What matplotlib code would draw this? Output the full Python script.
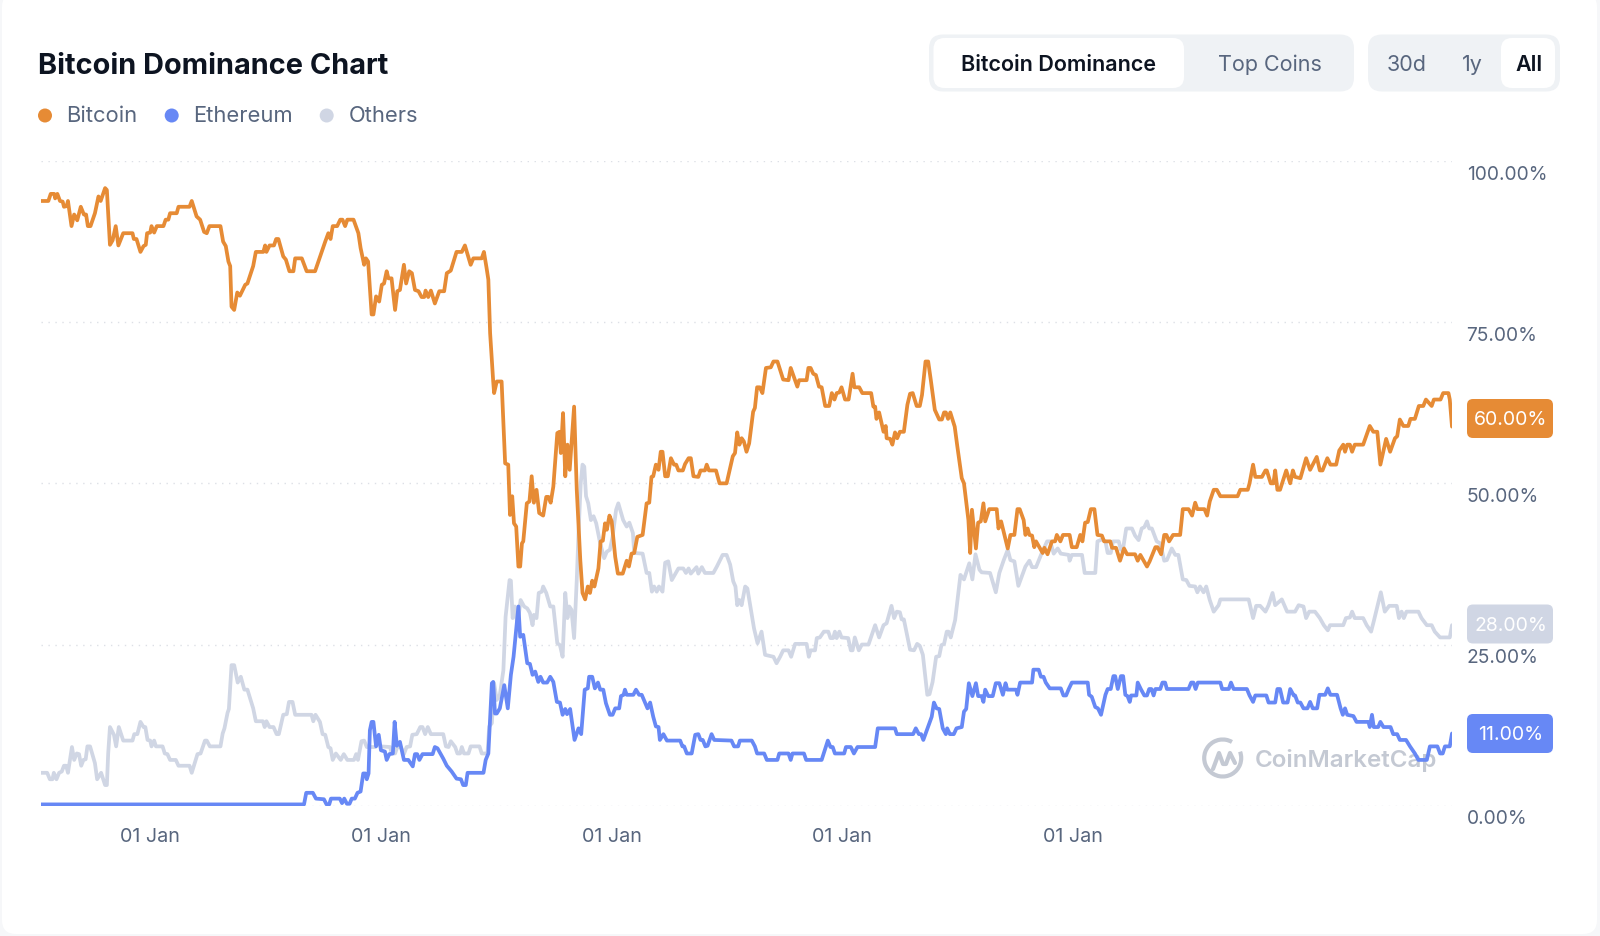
import matplotlib
matplotlib.use("Agg")
import matplotlib.pyplot as plt
from matplotlib.patches import FancyBboxPatch, Circle, Arc
from matplotlib.transforms import ScaledTranslation

plt.rcParams['font.family'] = ['Inter', 'DejaVu Sans']

# (weeks since first sample, share in %)
bitcoin = [(0,93.8),(1.66,93.8),(2.2,94.9),(3,94.9),(3.2,94.2),(3.7,94.9),(4.3,93.8),(4.9,93.7),(5.2,92.9),(5.8,93),(6.1,93.8),(6.9,89.9),(7.5,91.7),(8.2,90.8),(9,92.9),(9.7,91.7),(10.2,91.7),(10.6,89.9),(11.2,89.9),(12.2,91.9),(13,94.5),(13.5,93.8),(14.5,95.8),(14.9,95.5),(15.6,87),(16.2,87.7),(16.9,89.9),(17.5,86.9),(18.6,88.8),(20.7,88.8),(21,87.9),(21.6,87.9),(22.5,85.9),(23.2,86.8),(23.7,87),(24,88.8),(24.7,88.9),(25,89.9),(25.6,88.9),(26.2,89.9),(27.7,89.9),(28.2,90.9),(28.8,90.9),(29.2,91.9),(30.7,91.9),(31.1,92.9),(33.6,92.9),(34.1,93.8),(35.2,91.4),(36,90.9),(36.9,89),(37.5,88.8),(38.1,89.9),(40.6,89.9),(41.2,87.5),(41.8,86.8),(42.4,84.4),(42.8,83.7),(43.1,77.4),(43.7,76.9),(44.4,79.6),(45,79.1),(46.2,80.8),(46.7,81),(48,83.7),(48.6,85.9),(50.3,85.9),(50.7,86.9),(51,85.9),(51.7,86.9),(52.7,86.9),(53.2,87.9),(53.7,87.9),(54.8,85.2),(55.4,84.7),(56.2,82.9),(57.1,82.9),(57.5,84.9),(59,84.9),(60.1,82.9),(62,82.9),(64.3,87.5),(65,88.8),(65.5,87.9),(66,89.9),(67,89.9),(67.7,90.9),(68.2,90.9),(68.8,89.9),(69.3,90.9),(70.7,90.9),(71.8,88.8),(72.3,86.5),(73.1,83.9),(73.5,84.9),(74,84.4),(74.8,76.2),(75.2,76.2),(75.8,79),(76.5,78.2),(77.1,80.8),(77.6,81),(78.2,82.9),(78.6,81.8),(79.3,81.8),(80.1,76.9),(80.6,79.8),(81.2,80),(82.1,83.9),(82.6,81),(83.3,82.9),(83.9,82.6),(84.6,80),(85.4,79.8),(86.1,78.9),(86.7,78.9),(87,79.9),(87.6,78.9),(88.2,79.9),(89.1,77.9),(90.1,79.8),(91.2,79.8),(91.8,82.6),(92.7,83),(94,85.9),(95.2,85.9),(95.9,86.9),(97.2,83.9),(97.8,84.9),(99.7,84.9),(100.2,85.9),(100.8,83.4),(101.2,81.6),(101.6,73.3),
 (102.3,65.8),(102.5,64),(103.1,65.8),(104.2,65.8),(105,53.1),(105.7,52.9),(106.1,45.1),(106.6,48),(107,43.8),(107.5,43.3),(108,37.1),(108.4,37.1),(108.8,40.7),(109.1,41),(109.9,46.9),(110.5,47.2),(111,51.1),(111.5,47),(112.1,49),(112.7,45.4),(113.6,45),(114.3,47.9),(114.8,47.9),(115.3,47),(115.9,49.5),(116.8,57.8),(117.3,58),(117.6,54.7),(118.1,60.9),(118.6,51.1),(119.1,56),(119.6,52.1),(120.6,61.9),(121.2,49),(122,38.1),(122.5,33),(123.1,32),(123.7,34),(124.2,33),(124.7,34.9),(125.2,34),(126.1,36.8),(126.6,41),(127.1,41.1),(127.6,43.8),(128,42.8),(128.6,45),(129.1,44.1),(129.9,38.6),(130.5,36),(131.6,36),(132.5,38),(133,37.1),(133.6,39.1),(134.2,39.2),(134.9,41.7),(136.1,42),(137,46.9),(137.6,47),(138.1,51),(138.5,51.1),(139.1,52.9),(139.7,52.1),(140.2,54.9),(140.6,54.9),(141.2,51.1),(141.8,51.1),(142.5,53.9),(143.2,52.9),(143.7,52.9),(144.2,52),(145.2,52),(145.7,53),(146.5,53.9),(147,53.9),(147.6,51.1),(148.7,51),(149.2,52),(150.2,52),(150.6,52.9),(151.1,52),(152.7,52),(153.5,50),(155.1,50),
 (156.5,54.2),(157,54.7),(157.5,57.9),(158,56),(158.5,57),(159,56.5),(159.6,54.9),(160.2,56.2),(161.1,61.1),(161.5,61.7),(162,64.9),(162.6,64.9),(163.2,64),(164,67.9),(165.1,68),(165.7,68.9),(166.6,68.9),(167.9,66.1),(169.1,66),(169.6,67.9),(171.1,65),(171.5,66),(173.2,66),(173.6,67.9),(174.1,67.9),(174.7,67),(175.3,66.8),(176,65),(176.6,64.9),(177.4,62),(178.3,62),(178.9,64),(179.5,63),(180,64),(180.6,64.1),(181.1,64.9),(181.9,63),(182.7,63),(183.6,67),(184,64.9),(185.1,64.9),(185.8,64),(187.8,64),(188.3,61.9),(188.7,61.9),(189,60),(189.6,61),(190.6,58),(191.1,58.9),(191.3,57),(192.1,56.9),(192.6,56),(193.2,57.9),(193.7,57),(194.3,58),(195.2,58),(196,62.2),(196.6,63.9),(197.2,64),(198.1,62),(198.8,62),(199.3,63.7),(200.1,68.9),(200.7,68.9),(201.3,66),(202.2,61.4),(203.2,59.9),(203.8,59.9),(204.3,61),(204.7,61),(205.2,60),(205.7,61),(206.7,58.8),(207.3,55.7),(208.3,50.8),(208.8,50),(209.8,44.3),(210.2,39.2),(210.6,45.9),(211.5,39.9),(212,43.9),(212.6,44.1),(213.2,46.9),(213.6,44.1),(214.5,46),(216.2,46),(216.6,43),
 (217.2,44.1),(218.7,39.9),(219.3,42),(220.2,42),(220.9,46),(221.4,46),(222.3,44.3),(222.7,42),(223.2,43),(223.6,42),(224.2,41.9),(224.7,40.1),(225.1,41),(226,39.9),(226.6,39.2),(227,40),(227.7,39),(228.7,41),(229.4,41),(229.8,42),(230.6,41),(231.2,42),(232.7,42),(233.2,40.1),(234.3,40.1),(235.1,42),(235.6,41),(236.2,43.9),(236.8,44),(237.5,46),(238.3,46),(239,42),(240,41.9),(240.5,41),(241.9,41),(242.3,40),(243.2,40),(244.1,38),(245,39.9),(245.7,39),(247.5,39),(248.1,38),(248.7,38.9),(250.2,37.1),(250.8,37.9),(252.1,40.1),(252.6,40.1),(253.4,39),(254.1,42),(254.6,42),(255.2,41),(256.1,42),(257.7,42),(258.3,46),(259.6,46),(260.4,45),(261.1,47),(261.6,46),(263.2,46),(263.8,45),(264.4,47.2),(265.3,49),(266,49),(266.8,48),(270.7,48),(271.3,49),(273,49),(273.4,50),(274.2,52.9),(274.7,51),(276.2,51),(277,52),(277.3,52),(278.2,50),(278.8,50),(279.2,52),(279.7,49),(280.3,49),(281.7,52),(282.6,50),(283.2,52),(283.7,51),(284.9,50.8),
 (286.2,53.9),(287.1,52.1),(288.6,54.1),(289.3,52),(289.9,52),(291,53.9),(291.7,52.9),(293,52.9),(293.7,55.1),(294.6,56),(295,54.9),(295.5,56),(296.1,56),(296.6,54.9),(297.2,56),(299.1,56),(300.6,58.9),(301.4,58),(302.3,58),(303,52.9),(304.3,56.9),(305.2,54.9),(306.3,57),(306.8,57.3),(307.4,59.9),(308.2,58.9),(309.3,58.9),(309.8,60),(310.8,60),(311.7,62),(312.7,62),(313.3,63),(314.6,62),(315.1,63),(316.6,63),(317.2,64),(318.4,64),(318.7,63),(319.2,58.8)]

ethereum = [(0,0.2),(59.5,0.2),(60,2),(61.5,2),(62.2,1.1),(64,1),(64.6,0.2),(65.2,0.2),(65.6,1.1),(67.6,1.1),(68.1,0.4),(68.6,1.1),(69.2,0.3),(69.8,0.3),(70.3,1.1),(71,1.1),(71.6,2),(72.3,2.2),(72.9,5),(73.4,5),(73.7,4.1),(74.1,5),(74.4,11.7),(74.8,13),(75.2,13),(75.8,9.2),(76.4,11),(76.9,8.6),(77.8,8.4),(78.2,7.1),(78.8,8),(79.6,8.1),(80,13),(80.5,9.3),(81.2,9.9),(82.1,7.1),(83.1,7.1),(84.1,6.1),(84.6,8),(85.1,8),(85.6,7.1),(86.3,8),(88.6,8),(89.1,9.1),(89.7,8.9),
 (91,7.3),(91.8,6.2),(92.9,5.3),(94,4.2),(95,4.1),(95.5,3.2),(96.1,3.2),(96.5,5.1),(100.1,5.1),(100.6,7.1),(101.2,8.1),(102,19),(102.3,19.2),(102.7,14.3),(103.1,14.3),(103.8,15.1),(104.8,18.7),(105.6,15.1),(106.3,20.3),(106.9,23.1),(108,30.9),(108.4,26.2),(109.1,26.5),(110,22.1),(110.6,22),(111.2,20.3),(111.8,20.8),(112.5,19.2),(113,20),(113.6,19.1),(114.5,19.1),(115.2,20),(115.9,19.2),(116.7,16.1),(117.4,16),(118,14.1),(118.6,15),(119,14.2),(119.7,15),(120.7,10.2),(121.6,12),(122.2,11.1),(123,18),(123.7,18.2),(124,20),(124.7,20),(125.3,18.2),(126,19.1),(126.5,18),(127.2,18),(127.8,15.9),(128.7,14.1),(129.3,14.1),(129.9,15.1),(130.8,15.1),(131.2,17),(131.8,17.2),(132.1,18),(132.5,17.2),(134,17.2),(134.6,18),(135.3,17.2),(135.9,17.2),(137.2,15.1),(137.8,16),(138.5,13.8),(139.1,12.3),(139.7,12.2),(140,10.2),(140.8,11.1),(141.6,10.1),(144.6,10.1),(145.1,9.2),(145.5,9.2),(146.1,8.1),(147.2,8.1),(148,11),(148.7,11.1),(149.2,10.2),(149.7,10.2),(150.3,9.2),(150.8,9.3),(151.7,11.1),(152.3,10.2),
 (156.2,10.1),(156.8,9.2),(157.7,9.2),(158.1,10.1),(160.8,10.1),(161.5,9.2),(162,8.1),(163.6,8.1),(164.2,7.1),(166.6,7.1),(167,8.1),(169.1,8.1),(169.6,7.1),(170,8.1),(172.6,8.1),(173.1,7.1),(176.6,7.1),(178,10.1),(178.6,9.1),(179.1,9.1),(179.6,8.1),(181.7,8.1),(182.1,9.1),(183.2,9.1),(183.9,8.1),(184.7,9.1),(188.7,9.1),(189.3,12),(189.8,12),(193.2,12),(193.6,11.1),(197.3,11.1),(197.9,12),(198.6,11.1),(199.1,11.1),(199.6,10.2),(200.7,12.3),(201.5,13.8),(202,16),(202.6,15.1),(203.2,15),(204,12),(204.7,11.1),(205,12),(205.6,11.1),(206.5,11.1),(207.1,12),(208.3,12.2),(208.8,14.6),(209.3,15),(209.9,19),(210.7,17),(211.5,19),(212,17),(212.8,17),(213.2,16.1),(213.6,18),(214.3,17),(215.3,17),(216,19),(216.8,19),(217.6,17.2),(218.2,19),(218.6,18),(220.6,18),(220.9,17.2),(221.5,19.1),
 (224.2,19.1),(224.5,21.1),(225.7,21.1),(226.2,20),(226.8,20),(227.3,19.1),(228.2,18.2),(230.7,18.2),(231.3,17.1),(231.9,17.1),(232.5,18.1),(233.2,19.1),(236.8,19.1),(237.1,17.2),(237.7,16.9),(238.5,15.3),(239.1,15.1),(239.8,14.1),(240.8,17.2),(241.3,18.1),(242,18.1),(242.6,20.1),(243,20.1),(243.6,18.1),(244.3,20.1),(244.8,20.1),(245.3,17.2),(245.8,17),(246.3,16.1),(246.6,17.1),(247.8,17.1),(248.1,19.1),(248.8,18.1),(249.6,17.1),(250.2,17.1),(250.7,18.1),(251.2,18.1),(251.7,17.1),(252.1,18.1),(253.2,18.1),(253.7,19.1),(254.3,19.1),(254.7,18.1),(259.6,18.1),(260.2,19.1),(260.7,19.1),(261.2,18.1),(261.7,19.1),(266.8,19.1),(267.2,18.1),(268.7,18.1),(269.2,19.1),(269.8,18.1),(272.8,18.1),(273.4,17.1),(274.2,16.1),(274.7,17.1),(277.2,17.1),(277.7,16),(279.2,16),(279.7,18.1),(280.3,18.1),(281,16),(282,16),(282.6,18.1),(283.4,17.1),(283.7,17.1),(284.3,16),(284.9,16),
 (285.6,15.1),(286.5,15.1),(287.1,16.1),(287.7,15.1),(288.7,15.1),(289.2,17.2),(290.5,17.2),(291.1,18.2),(291.7,17.2),(293.2,17.2),(294,15.1),(294.5,14.1),(295,15.1),(295.5,14.1),(296.9,13.9),(297.6,13),(300.3,13),(300.6,12.2),(301.1,14.1),(301.5,12.2),(302.5,12.2),(303,13),(303.7,12.2),(305.3,12.2),(305.9,11.1),(306.8,11.1),(307.4,10.2),(308.8,10.2),(309.7,9.2),(310.8,8.1),(311.6,7.1),(313.5,7.1),(314.2,9.2),(315.9,9.2),(316.5,8.1),(317.1,8.1),(317.6,9.2),(318.7,9.2),(319.2,11.2)]

others = [(0,5.1),(1.4,5.1),(2,4.1),(2.6,4.1),(2.9,5.1),(3.5,4.1),(4.1,5.1),(4.7,5.3),(5.2,6.2),(5.7,6.2),(6.1,5.1),(7,9.1),(7.5,7.1),(8.1,8.1),(8.6,8),(9.1,6.2),(9.6,7.1),(10.1,7.2),(10.5,9.2),(11.1,9.2),(12.2,6.6),(12.7,4.1),(13.6,5.1),(14.5,3.2),(14.9,3.2),(15.2,8.1),(15.6,12.2),(16.5,11),(17,9.2),(17.6,12.2),(18.6,10.1),(20.7,10.1),(21.1,11.1),(21.8,11.1),(22.5,13),(23.2,12.2),(23.6,12.2),(24.1,10.2),(24.7,10.1),(25,9.2),(25.6,10.1),(26,9.2),(27.5,9.2),(28,8.1),(28.6,8),(29.2,7.1),(30.5,7.1),(31.1,6.2),(33.6,6.2),(34.1,5.1),(35.4,8),(36.1,8.1),(37.1,10.1),(37.5,10.1),(38.2,9.2),(40.6,9.2),(41.1,11.2),(41.5,12),(42.2,14.4),(42.5,15),(43.1,21.8),(43.7,21.8),(44.5,19.1),(45.2,20),(46,18),(46.7,18),(48,15.1),(48.6,13.1),(50.2,13.1),(50.6,12.2),(51,13.1),(51.7,12.2),(52.6,12.2),(53.3,11.1),(53.8,11.1),
 (54.8,14.1),(55.6,14.2),(56.1,16.1),(56.9,16.1),(57.5,14.1),(61.2,14.1),(61.6,13.1),(62.1,14.1),(63.1,13),(63.7,11.1),(64.3,11),(65,9.1),(65.5,8.9),(66,7.1),(66.7,8.1),(67.8,7.1),(68.5,8),(69.3,7.1),(70.8,7.1),(71.3,8),(71.7,7.1),(72.5,10),(73.1,10.1),(73.7,9.1),(75.6,9.1),(76.1,10.1),(76.8,9.2),(79,9.1),(79.3,8.1),(80.1,8.1),(80.6,9.1),(81.4,9.1),(82.1,8),(82.7,9.1),(83.5,9.2),(84,11),(85,11.1),(85.8,12.2),(86.3,12.2),(86.9,11.1),(87.5,12.2),(88.2,11.1),(91,11.1),(91.6,9.2),(92.2,9.1),(92.7,10),(93.7,9.1),(94.2,8.1),(94.8,8.1),(95.2,9.1),(95.7,8.1),(96.7,8.1),(97.2,9.2),(99.2,9.2),(99.7,8.1),(101,8.1),(101.4,12.3),
 (102,12.8),(102.5,19),(103.1,16.4),(103.8,17.2),(104.6,21),(105.1,29.3),(106,35),(106.3,34.9),(106.7,29.1),(107.2,30.9),(107.8,28),(108.5,31.9),(109.3,30.9),(110,30.6),(110.6,29.9),(111.2,28),(111.5,29.6),(112.1,29.1),(112.6,33),(113.3,33.2),(113.6,34),(114.3,33),(115.2,30.9),(115.9,30.9),(116.8,25.2),(117.4,24.9),(118,23.1),(118.6,33),(119.1,29.1),(119.5,30.9),(120,30.4),(120.6,26),(121.2,35),(121.6,42.3),(122.1,50),(122.5,52.9),(122.9,52.6),(123.3,48),(123.8,46.9),(124.4,44.3),(125,44.9),(125.6,43.8),(126.5,40.7),(127.4,38.4),(128,39.4),(128.7,39.7),(129.3,41.7),(130.1,45.9),(130.6,46.9),(131.7,44.3),(132.5,43.3),(133.1,43.9),(133.9,42.3),(134.2,39.2),(136.1,39.1),(137,36.1),(137.6,36.1),(138.2,33.2),(138.7,34),(139.3,33.2),(139.8,34),(140.6,33.2),(141.2,37.7),(141.9,37.9),(142.7,35),(143.7,36.2),(144.2,36.8),(145.3,36.8),(145.9,36.1),(146.5,36.8),(147,36),(148.3,37),(148.7,36),(149.5,37),(150.2,36.1),(152.1,36.1),(152.9,37.1),
 (154.2,38.9),(155.1,38.9),(155.9,37.4),(156.6,34.8),(157.1,34),(157.5,31.1),(158,31.9),(158.5,31.1),(159.3,34),(159.8,33.7),(160.8,29.6),(161.3,27.5),(162.1,25.2),(163,27),(163.8,23.4),(165.7,23.1),(166.4,22.1),(167.2,23.1),(167.9,24.1),(169.1,24.1),(169.7,23.1),(170.6,25.1),(173.2,25.1),(173.7,23.1),(174.1,24.1),(175.1,24.1),(175.5,26),(176.2,26.1),(177.1,27),(178.1,27),(178.6,26),(179.2,26),(179.6,27),(180,26),(180.6,27),(181.1,26.1),(182.6,26),(183.2,24.1),(183.6,24.1),(184.1,26.1),(185,24.1),(185.7,25),(187.2,25),(188.7,28),(189.6,26.1),(190.6,28),(191.3,28.3),(192.4,31),(193,29.1),(193.6,30.1),(194.3,30),(194.7,28.9),(195.2,28.9),(196.6,24.2),(197.5,24.1),(198.2,25.1),(198.8,24.8),(199.5,23.4),(200.5,17.2),(201,17.3),(201.7,19.2),(202.5,23.1),(203.2,23.2),(203.7,24.9),(204.3,25.1),(204.9,27),(205.3,27),(205.8,26.1),(206.8,28.8),(208,35.8),(208.8,35.1),(210,37.6),(210.7,35.1),(211.4,39),(212.3,36.6),(212.8,36.2),(214.7,36.1),(216,33.1),(216.8,36.1),
 (217.8,38.1),(218.7,39.7),(219.3,38.1),(220.2,37.9),(221.1,34.1),(222.7,37.1),(223.6,38),(224.2,37),(225.1,37),(226.4,39.2),(227.6,41),(228.3,41),(229.1,39.1),(230,39.9),(230.7,39.1),(232.5,38.9),(232.7,38),(233.2,38.9),(235.5,38.9),(236.1,36.1),(238.5,36.1),(239,41),(240,41.3),(240.8,41),(241.3,39.2),(242,39.2),(242.5,41),(243.8,41),(244.3,39.7),(244.8,39.9),(245.5,43),(246.8,43),(247.5,41.9),(248.3,41.2),(249,43),(249.6,43.2),(250.2,44.1),(250.7,43),(251.3,43),(252.4,41),(253.2,40.7),(254.1,38),(254.7,38.1),(255.8,39.9),(256.6,38.9),(257.3,38.9),(258.3,35.1),(259.1,35),(259.8,34.1),(261.1,34),(261.6,33.1),(262.2,34),(263,33.1),(263.6,34),(264.4,31.9),(265.3,30.1),(266.4,31.1),(266.8,32),(273.2,32),(274.2,29.1),(274.9,31),(275.8,31),(277,30.1),(277.7,31.1),(278.6,33),(279.2,31.1),(280.7,32),(281.9,30.1),(283.7,30.1),(284.5,31.1),
 (285.6,30.9),(286.2,29.1),(286.9,30.1),(288.2,30.1),(289.3,29.1),(290.2,28),(291.1,27.2),(291.6,28),(294.6,28),(295.2,29.1),(296.1,29.2),(296.6,30.1),(297.2,29.1),(299.1,29.1),(299.9,28),(300.9,27),(301.5,28.6),(303.1,33.1),(304,30.1),(305,31),(306.7,31),(307.2,29.1),(307.8,30.1),(308.3,29.1),(308.9,30.1),(311.6,30.1),(312.3,29.1),(313.5,28),(314.6,28),(315.3,27),(316.5,26.1),(318.7,26.1),(319.2,28)]

x_tick_weeks = [24.7, 76.9, 129.1, 181.3, 233.5]
x_tick_labels = ["01 Jan"] * 5
y_ticks = [0, 25, 50, 75, 100]
y_tick_labels = ["0.00%", "25.00%", "50.00%", "75.00%", "100.00%"]
legend_names = ["Bitcoin", "Ethereum", "Others"]
badge_labels = ["60.00%", "28.00%", "11.00%"]

ORANGE, BLUE, GREY = "#E68B35", "#6788F5", "#D0D6E4"
MUTED, DARK = "#58667E", "#0D1421"
W, H = 1600, 937

fig = plt.figure(figsize=(W/100, H/100), dpi=100, facecolor="#F6F7F9")

# page furniture, laid out in canvas pixels
ui = fig.add_axes([0, 0, 1, 1], zorder=0)
ui.set_xlim(0, W); ui.set_ylim(H, 0); ui.axis("off")

def box(x0, y0, x1, y1, color, r):
    ui.add_patch(FancyBboxPatch((x0+r, y0+r), x1-x0-2*r, y1-y0-2*r,
                 boxstyle=f"round,pad={r},rounding_size={r}", fc=color, ec="none"))

box(2, -6, 1597, 935, "white", 14)
ui.text(38, 66, "Bitcoin Dominance Chart", fontsize=20.8, fontweight="bold", color=DARK, va="center")

for name, cx, tx, c in zip(legend_names, [45, 171.7, 326.7], [66, 193, 349], [ORANGE, BLUE, GREY]):
    ui.add_patch(Circle((cx, 116.5), 7, fc=c, ec="none"))
    ui.text(tx, 116.5, name, fontsize=15.8, color=MUTED, va="center")

box(929, 35.5, 1354, 92.5, "#EFF2F5", 14)
box(933.5, 39, 1184, 89, "white", 11)
box(1368, 35.5, 1560, 92.5, "#EFF2F5", 14)
box(1501, 39, 1555, 89, "white", 11)
ui.text(1058.8, 65, "Bitcoin Dominance", fontsize=15.5, fontweight="semibold", color=DARK, ha="center", va="center")
ui.text(1270, 65, "Top Coins", fontsize=15.5, color=MUTED, ha="center", va="center")
ui.text(1407, 65, "30d", fontsize=15.5, color=MUTED, ha="center", va="center")
ui.text(1472, 65, "1y", fontsize=15.5, color=MUTED, ha="center", va="center")
ui.text(1529, 65, "All", fontsize=15.5, fontweight="semibold", color=DARK, ha="center", va="center")

for label, y0, y1, c in zip(badge_labels, [400, 605.5, 715], [439, 644.5, 754], [ORANGE, GREY, BLUE]):
    box(1467, y0, 1553, y1, c, 6)
    ui.text(1510.5, (y0+y1)/2+1, label, fontsize=14, color="white", ha="center", va="center")

# watermark
WM = "#C4C9D3"
ui.add_patch(Arc((1222.7, 759), 37, 37, angle=0, theta1=-20, theta2=300, lw=3, color=WM))
ui.plot([1213, 1219, 1223, 1226, 1230, 1235], [770, 754, 765, 765, 754, 764], color=WM, lw=3,
        solid_capstyle="round", solid_joinstyle="round")
ui.text(1255, 761, "CoinMarketCap", fontsize=17.4, fontweight="semibold", color=WM, va="center")

# chart
left, right, top, bottom = 41, 1452, 162, 806.7
ax = fig.add_axes([left/W, 1-bottom/H, (right-left)/W, (bottom-top)/H], zorder=1)
ax.patch.set_visible(False)
ax.set_xlim(0, 319.2)
ax.set_ylim(0, 100)
for s in ax.spines.values():
    s.set_visible(False)

for pts, c, z in [(others, GREY, 2), (ethereum, BLUE, 3), (bitcoin, ORANGE, 4)]:
    ax.plot([p[0] for p in pts], [p[1] for p in pts], color=c, lw=2.7, zorder=z,
            solid_joinstyle="round", solid_capstyle="round")

ax.set_yticks(y_ticks, y_tick_labels)
ax.set_xticks(x_tick_weeks, x_tick_labels)
ax.yaxis.tick_right()
ax.grid(axis="y", color="#DDE0E6", lw=1, ls=(0, (1, 4)))
ax.grid(axis="x", visible=False)
ax.set_axisbelow(True)
ax.tick_params(axis="y", length=0, pad=10.5, labelsize=13.8, labelcolor=MUTED)
ax.tick_params(axis="x", length=0, pad=15, labelsize=14.2, labelcolor=MUTED)
shift = ScaledTranslation(0, -10.5/100, fig.dpi_scale_trans)
for t in ax.get_yticklabels():
    t.set_transform(t.get_transform() + shift)

fig.savefig("out.png", dpi=100, facecolor=fig.get_facecolor())
